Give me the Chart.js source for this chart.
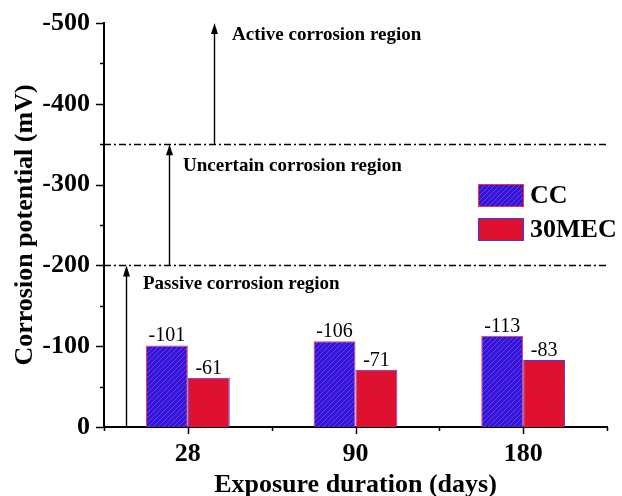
<!DOCTYPE html>
<html>
<head>
<meta charset="utf-8">
<script src="https://cdn.jsdelivr.net/npm/chart.js@4.4.1/dist/chart.umd.min.js"></script>
<style>
  html, body { margin: 0; padding: 0; background: #ffffff; }
  #wrap { width: 622px; height: 496px; }
</style>
</head>
<body>
<div id="wrap"><canvas id="c" width="622" height="496"></canvas></div>
<script>
// Exposure durations (days) and corrosion potentials (mV)
const categories = ['28', '90', '180'];
const ccValues = [-101, -106, -113];
const mecValues = [-61, -71, -83];
const seriesNames = ['CC', '30MEC'];
const yTicks = [0, -100, -200, -300, -400, -500];

// Threshold lines separating the corrosion regions (mV)
const thresholds = [-200, -350];
const regionLabels = [
  { text: 'Active corrosion region', at: -485, dx: 128 },
  { text: 'Uncertain corrosion region', at: -323, dx: 79 },
  { text: 'Passive corrosion region', at: -177, dx: 39 }
];
// Arrows pointing up into each region: [from, to] in mV
const arrows = [
  { from: 0, to: -200, dx: 22 },
  { from: -200, to: -350, dx: 65 },
  { from: -350, to: -500, dx: 110 }
];

const SERIF = "'Liberation Serif', 'Times New Roman', serif";

function hatch(bg, fg, dir) {
  const s = 5;
  const c = document.createElement('canvas');
  c.width = s; c.height = s;
  const g = c.getContext('2d');
  g.fillStyle = bg;
  g.fillRect(0, 0, s, s);
  g.strokeStyle = fg;
  g.lineWidth = 0.8;
  g.beginPath();
  if (dir > 0) {
    g.moveTo(0, s); g.lineTo(s, 0);
    g.moveTo(-1, 1); g.lineTo(1, -1);
    g.moveTo(s - 1, s + 1); g.lineTo(s + 1, s - 1);
  } else {
    g.moveTo(0, 0); g.lineTo(s, s);
    g.moveTo(-1, s - 1); g.lineTo(1, s + 1);
    g.moveTo(s - 1, -1); g.lineTo(s + 1, 1);
  }
  g.stroke();
  return g.createPattern(c, 'repeat');
}

const ccFill = hatch('#1a1aff', '#ff2a2a', 1);
const mecFill = hatch('#ff0808', '#3a3aff', -1);

// Tick marks (major + minor), threshold lines, arrows, region text, value labels, legend
const decorations = {
  id: 'decorations',
  afterDatasetsDraw(chart) {
    const { ctx, chartArea: a, scales: { x, y } } = chart;
    ctx.save();

    // y-axis ticks, pointing outward
    ctx.strokeStyle = '#000';
    ctx.lineWidth = 1.5;
    for (let v = 0; v >= -500; v -= 50) {
      const py = Math.round(y.getPixelForValue(v)) + 0.5;
      const len = (v % 100 === 0) ? 8 : 4;
      ctx.beginPath();
      ctx.moveTo(a.left - len, py);
      ctx.lineTo(a.left, py);
      ctx.stroke();
    }
    // x-axis ticks: centres long, boundaries short
    const n = categories.length;
    const step = (a.right - a.left) / n;
    for (let i = 0; i < n; i++) {
      const px = Math.round(x.getPixelForValue(i)) + 0.5;
      ctx.beginPath();
      ctx.moveTo(px, a.bottom);
      ctx.lineTo(px, a.bottom + 7);
      ctx.stroke();
    }
    for (let i = 0; i <= n; i++) {
      const px = Math.round(x.getPixelForValue(i) - step / 2) + 0.5;
      ctx.beginPath();
      ctx.moveTo(px, a.bottom);
      ctx.lineTo(px, a.bottom + 4);
      ctx.stroke();
    }

    // dash-dot threshold lines
    ctx.lineWidth = 1.3;
    ctx.setLineDash([7, 3, 2, 3]);
    thresholds.forEach(t => {
      const py = Math.round(y.getPixelForValue(t)) + 0.5;
      ctx.beginPath();
      ctx.moveTo(a.left, py);
      ctx.lineTo(a.right, py);
      ctx.stroke();
    });
    ctx.setLineDash([]);

    // arrows
    ctx.fillStyle = '#000';
    ctx.lineWidth = 1.4;
    arrows.forEach(ar => {
      const px = Math.round(a.left + ar.dx) + 0.5;
      const y0 = y.getPixelForValue(ar.from);
      const y1 = y.getPixelForValue(ar.to);
      ctx.beginPath();
      ctx.moveTo(px, y0);
      ctx.lineTo(px, y1 + 8);
      ctx.stroke();
      ctx.beginPath();
      ctx.moveTo(px, y1);
      ctx.lineTo(px - 3.5, y1 + 11);
      ctx.lineTo(px + 3.5, y1 + 11);
      ctx.closePath();
      ctx.fill();
    });

    // region names
    ctx.font = 'bold 19px ' + SERIF;
    ctx.textAlign = 'left';
    ctx.textBaseline = 'middle';
    regionLabels.forEach(r => {
      ctx.fillText(r.text, a.left + r.dx, y.getPixelForValue(r.at));
    });

    // value labels above bars
    ctx.font = '20px ' + SERIF;
    ctx.textAlign = 'center';
    ctx.textBaseline = 'alphabetic';
    chart.data.datasets.forEach((ds, di) => {
      chart.getDatasetMeta(di).data.forEach((bar, i) => {
        ctx.fillText(String(ds.data[i]), bar.x, bar.y - 4);
      });
    });

    // legend
    const lx = 478, ly = [184, 218], bw = 46, bh = 23;
    ctx.font = 'bold 26px ' + SERIF;
    ctx.textAlign = 'left';
    ctx.textBaseline = 'middle';
    chart.data.datasets.forEach((ds, di) => {
      ctx.fillStyle = ds.backgroundColor;
      ctx.fillRect(lx, ly[di], bw, bh);
      ctx.strokeStyle = ds.borderColor;
      ctx.lineWidth = 1;
      ctx.strokeRect(lx + 0.5, ly[di] + 0.5, bw - 1, bh - 1);
      ctx.fillStyle = '#000';
      ctx.fillText(ds.label, lx + bw + 6, ly[di] + bh / 2 + 1);
    });

    ctx.restore();
  }
};

new Chart(document.getElementById('c'), {
  type: 'bar',
  data: {
    labels: categories,
    datasets: [
      {
        label: seriesNames[0],
        data: ccValues,
        backgroundColor: ccFill,
        borderColor: '#ff3030',
        borderWidth: 1,
        categoryPercentage: 0.5,
        barPercentage: 1.0
      },
      {
        label: seriesNames[1],
        data: mecValues,
        backgroundColor: mecFill,
        borderColor: '#3a3aff',
        borderWidth: 1,
        categoryPercentage: 0.5,
        barPercentage: 1.0
      }
    ]
  },
  options: {
    responsive: false,
    animation: false,
    devicePixelRatio: 1,
    layout: { padding: { top: 23, right: 15, left: 0, bottom: 0 } },
    plugins: {
      legend: { display: false },
      tooltip: { enabled: false },
      title: { display: false }
    },
    scales: {
      x: {
        offset: true,
        grid: { display: false, drawTicks: false, tickLength: 0 },
        border: { display: true, color: '#000', width: 2 },
        ticks: {
          color: '#000',
          padding: 12,
          font: { family: SERIF, size: 26, weight: 'bold' }
        },
        title: {
          display: true,
          text: 'Exposure duration (days)',
          color: '#000',
          padding: 0,
          font: { family: SERIF, size: 26, weight: 'bold', lineHeight: 0.8 }
        },
        afterFit(scale) {
          scale.height = 69;
          scale.paddingLeft = 0;
          scale.paddingRight = 0;
        }
      },
      y: {
        min: -500,
        max: 0,
        reverse: true,
        grid: { display: false, drawTicks: false, tickLength: 0 },
        border: { display: true, color: '#000', width: 2 },
        afterBuildTicks(scale) { scale.ticks = yTicks.map(v => ({ value: v })); },
        ticks: {
          color: '#000',
          padding: 14,
          callback: v => String(v),
          font: { family: SERIF, size: 26, weight: 'bold' }
        },
        title: {
          display: true,
          text: 'Corrosion potential (mV)',
          color: '#000',
          padding: { top: 12, bottom: 0 },
          font: { family: SERIF, size: 26, weight: 'bold', lineHeight: 1 }
        },
        afterFit(scale) {
          scale.width = 104;
          scale.paddingTop = 0;
          scale.paddingBottom = 0;
        }
      }
    }
  },
  plugins: [decorations]
});
</script>
</body>
</html>
